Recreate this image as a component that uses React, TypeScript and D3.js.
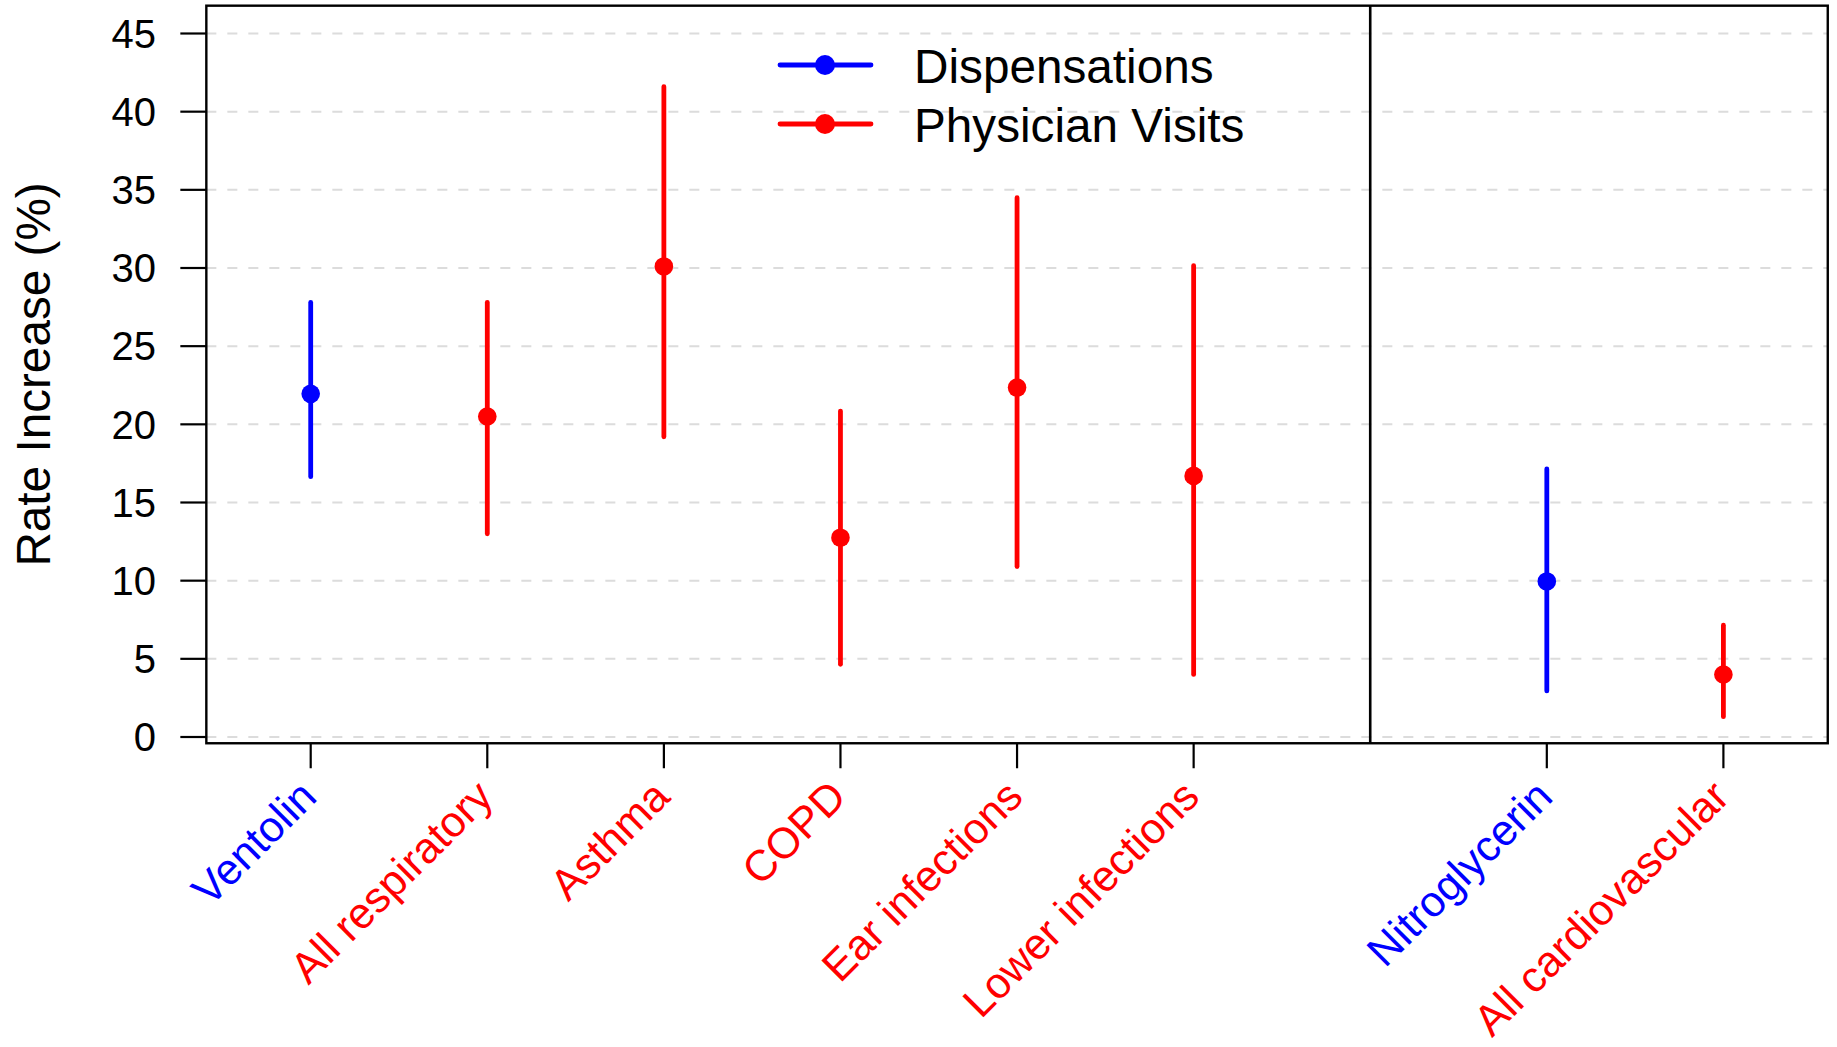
import { scaleLinear, scaleOrdinal } from "d3"

const categories = [
  "Ventolin",
  "All respiratory",
  "Asthma",
  "COPD",
  "Ear infections",
  "Lower infections",
  "Nitroglycerin",
  "All cardiovascular",
]
// slot 7 is left empty: it is where the two panels meet
const slots = [1, 2, 3, 4, 5, 6, 8, 9]
const kinds = [
  "Dispensations",
  "Physician Visits",
  "Physician Visits",
  "Physician Visits",
  "Physician Visits",
  "Physician Visits",
  "Dispensations",
  "Physician Visits",
]
const estimate = [21.95, 20.5, 30.1, 12.75, 22.35, 16.7, 9.95, 4.0]
const lower = [16.65, 13.0, 19.2, 4.65, 10.9, 4.0, 2.95, 1.3]
const upper = [27.8, 27.8, 41.6, 20.85, 34.5, 30.15, 17.15, 7.15]
const yTicks = [0, 5, 10, 15, 20, 25, 30, 35, 40, 45]
const seriesNames = ["Dispensations", "Physician Visits"]
const dividerSlot = 7

const W = 1837
const H = 1047
const font = "'Liberation Sans', Arial, Helvetica, sans-serif"

export default function App() {
  let x = scaleLinear().domain([1, 9]).range([310.7, 1723.4])
  let y = scaleLinear().domain([0, 45]).range([737, 33.5])
  let color = scaleOrdinal<string, string>().domain(seriesNames).range(["#0000ff", "#ff0000"])

  let left = x(1 - 0.591)
  let right = x(9 + 0.591)
  let top = y(46.78)
  let bottom = y(-0.4)

  return (
    <svg
      width={W}
      height={H}
      style={{ position: "absolute", left: 0, top: 0, display: "block", background: "#fff" }}
      fontFamily={font}
    >
      {/* grid */}
      {yTicks.map((t) => (
        <line
          key={"g" + t}
          x1={left}
          x2={right}
          y1={y(t)}
          y2={y(t)}
          stroke="#dcdcdc"
          strokeWidth={2}
          strokeDasharray="10,11"
        />
      ))}

      {/* intervals and points */}
      {categories.map((c, i) => (
        <g key={c}>
          <line
            x1={x(slots[i])}
            x2={x(slots[i])}
            y1={y(lower[i])}
            y2={y(upper[i])}
            stroke={color(kinds[i])}
            strokeWidth={4.8}
            strokeLinecap="round"
          />
          <circle cx={x(slots[i])} cy={y(estimate[i])} r={9.3} fill={color(kinds[i])} />
        </g>
      ))}

      {/* frame + panel divider */}
      <rect x={left} y={top} width={right - left} height={bottom - top} fill="none" stroke="#000" strokeWidth={2.4} />
      <line x1={x(dividerSlot)} x2={x(dividerSlot)} y1={top} y2={bottom} stroke="#000" strokeWidth={2.6} />

      {/* y axis */}
      {yTicks.map((t) => (
        <g key={"y" + t}>
          <line x1={left - 26} x2={left} y1={y(t)} y2={y(t)} stroke="#000" strokeWidth={2.2} />
          <text x={156} y={y(t) + 14.3} textAnchor="end" fontSize={40} fill="#000">
            {t}
          </text>
        </g>
      ))}
      <text
        transform={`translate(50,${(top + bottom) / 2}) rotate(-90)`}
        textAnchor="middle"
        fontSize={47.7}
        fill="#000"
      >
        Rate Increase (%)
      </text>

      {/* x axis */}
      {categories.map((c, i) => (
        <g key={"x" + c}>
          <line x1={x(slots[i])} x2={x(slots[i])} y1={bottom} y2={bottom + 25} stroke="#000" strokeWidth={2.2} />
          <text
            transform={`translate(${x(slots[i]) + 8},799) rotate(-45)`}
            textAnchor="end"
            fontSize={43.2}
            fill={color(kinds[i])}
          >
            {c}
          </text>
        </g>
      ))}

      {/* legend */}
      {seriesNames.map((s, i) => {
        let cy = 65 + i * 59
        return (
          <g key={"l" + s}>
            <line x1={780} x2={871} y1={cy} y2={cy} stroke={color(s)} strokeWidth={4.8} strokeLinecap="round" />
            <circle cx={825} cy={cy} r={10} fill={color(s)} />
            <text x={914} y={cy + 17.5} fontSize={47.7} fill="#000">
              {s}
            </text>
          </g>
        )
      })}
    </svg>
  )
}
